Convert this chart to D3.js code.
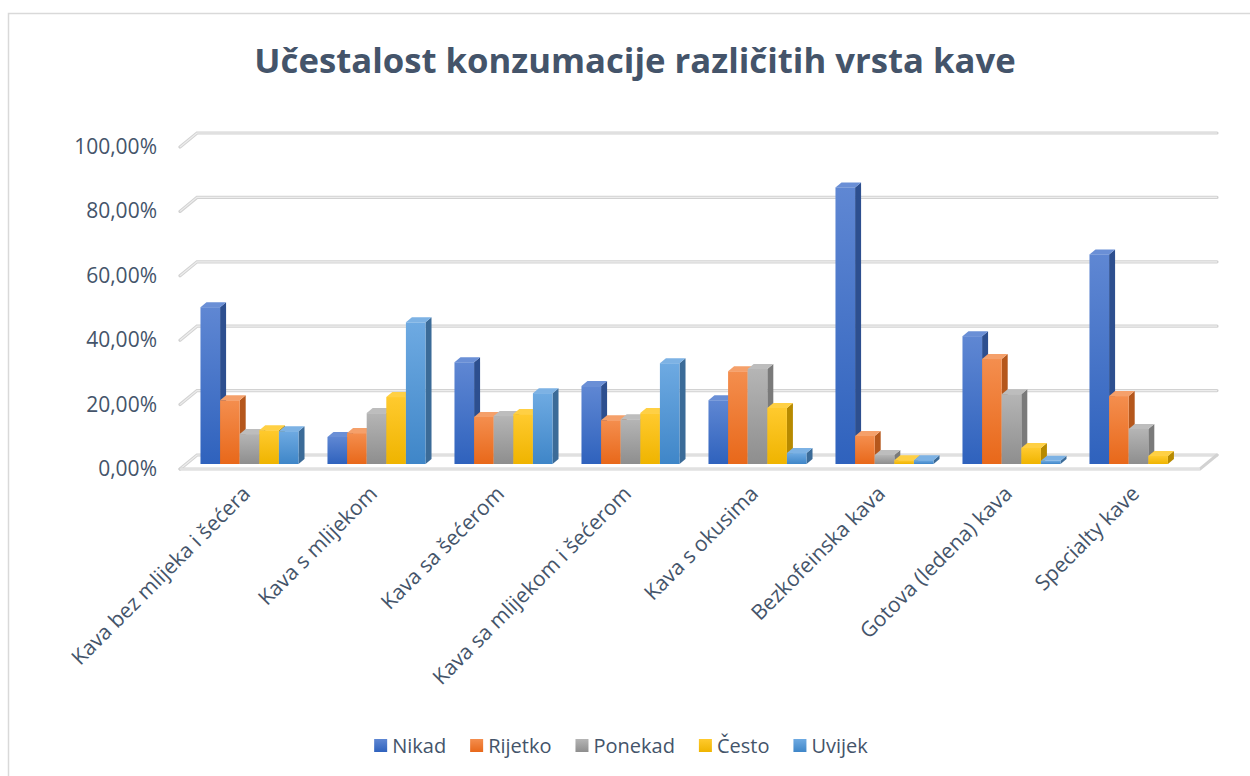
<!DOCTYPE html>
<html>
<head>
<meta charset="utf-8">
<script src="https://cdn.jsdelivr.net/npm/d3@7"></script>
<style>
    body { margin: 0; background: #fff; }
    svg { display: block; font-family: "Open Sans", sans-serif; }
</style>
</head>
<body>
<figure style="margin:0"></figure>
<script>
const CATEGORIES = [
    "Kava bez mlijeka i šećera",
    "Kava s mlijekom",
    "Kava sa šećerom",
    "Kava sa mlijekom i šećerom",
    "Kava s okusima",
    "Bezkofeinska kava",
    "Gotova (ledena) kava",
    "Specialty kave"
];
const SERIES = ["Nikad", "Rijetko", "Ponekad", "Često", "Uvijek"];
const NIKAD   = [0.487, 0.084, 0.316, 0.242, 0.198, 0.859, 0.397, 0.651];
const RIJETKO = [0.198, 0.096, 0.146, 0.136, 0.288, 0.087, 0.326, 0.211];
const PONEKAD = [0.093, 0.158, 0.149, 0.139, 0.295, 0.028, 0.217, 0.109];
const CESTO   = [0.105, 0.208, 0.155, 0.158, 0.174, 0.012, 0.050, 0.025];
const UVIJEK  = [0.102, 0.440, 0.220, 0.313, 0.034, 0.012, 0.010, 0.000];
const Y_TICKS = [0, 0.2, 0.4, 0.6, 0.8, 1.0];

const VALUES = [NIKAD, RIJETKO, PONEKAD, CESTO, UVIJEK];

// front / top / side colours for the fake 3D columns
const COLORS = [
    { top: "#6a8fd6", light: "#5f87d3", dark: "#2f62bd", side: "#2d4f8f" },
    { top: "#f5a06a", light: "#f48e4e", dark: "#e8681a", side: "#b5571c" },
    { top: "#bdbdbd", light: "#b5b5b5", dark: "#8e8e8e", side: "#7a7a7a" },
    { top: "#ffd044", light: "#ffca2e", dark: "#efb400", side: "#b78a00" },
    { top: "#7db2e4", light: "#6eaae2", dark: "#3f86c8", side: "#3b6b98" }
];
const TEXT = "#44546a";
const DX = 6, DY = 5;         // depth of a column
const WALL_DX = 17, WALL_DY = 14; // depth of the back wall relative to axis labels

const W = 1250, H = 776;

const svg = d3.select('figure')
    .append('svg')
    .attr('width', W)
    .attr('height', H);

const defs = svg.append('defs');
COLORS.forEach((c, i) => {
    const g = defs.append('linearGradient')
        .attr('id', 'grad' + i)
        .attr('x1', 0).attr('y1', 0).attr('x2', 0).attr('y2', 1);
    g.append('stop').attr('offset', '0%').attr('stop-color', c.light);
    g.append('stop').attr('offset', '100%').attr('stop-color', c.dark);
});

// chart frame
svg.append('rect')
    .attr('x', 8.5).attr('y', 13.5)
    .attr('width', W).attr('height', H)
    .attr('fill', 'none')
    .attr('stroke', '#d9d9d9')
    .attr('stroke-width', 1.5);

svg.append('text')
    .attr('x', 635)
    .attr('y', 73)
    .attr('text-anchor', 'middle')
    .attr('font-size', 34.7)
    .attr('font-weight', 700)
    .attr('fill', TEXT)
    .text("Učestalost konzumacije različitih vrsta kave");

const x0 = d3.scaleBand()
    .domain(CATEGORIES)
    .range([186, 1202])
    .paddingInner(0.228)
    .paddingOuter(0.114);

const x1 = d3.scaleBand()
    .domain(SERIES)
    .range([0, x0.bandwidth()]);

const y = d3.scaleLinear()
    .domain([0, 1])
    .range([464, 142]);

/**
 * back-wall y of a tick value
 */
function wallY(v) {
    return y(v) - 9;
}

// gridlines on the back wall with the slanted left end
const grid = svg.append('g');
Y_TICKS.forEach(t => {
    const by = wallY(t);
    const pts = [[180, by + WALL_DY], [180 + WALL_DX, by], [1217, by]];
    grid.append('path')
        .attr('d', d3.line()(pts))
        .attr('fill', 'none')
        .attr('stroke', '#d2d2d2')
        .attr('stroke-width', 3.2)
        .attr('stroke-linecap', 'round');
    grid.append('path')
        .attr('d', d3.line()(pts))
        .attr('fill', 'none')
        .attr('stroke', '#ededed')
        .attr('stroke-width', 1.2);
});

// floor front edge
const fy = wallY(0) + WALL_DY;
grid.append('path')
    .attr('d', d3.line()([[180, fy], [1200, fy], [1217, wallY(0)]]))
    .attr('fill', 'none')
    .attr('stroke', '#d2d2d2')
    .attr('stroke-width', 3)
    .attr('stroke-linecap', 'round');
grid.append('path')
    .attr('d', d3.line()([[180, fy], [1200, fy]]))
    .attr('fill', 'none')
    .attr('stroke', '#f0f0f0')
    .attr('stroke-width', 1);

// y labels
svg.append('g')
    .selectAll('text')
    .data(Y_TICKS)
    .join('text')
    .attr('x', 157)
    .attr('y', d => wallY(d) + WALL_DY + 7)
    .attr('text-anchor', 'end')
    .attr('font-size', 21)
    .attr('fill', TEXT)
    .text(d => d3.format('.2f')(d * 100).replace('.', ',') + '%');

// columns
const bars = [];
CATEGORIES.forEach((c, ci) => {
    SERIES.forEach((s, si) => {
        bars.push({ cat: c, ser: s, si: si, v: VALUES[si][ci] });
    });
});

const barG = svg.append('g')
    .selectAll('g')
    .data(bars.filter(d => d.v > 0))
    .join('g');

barG.each(function (d) {
    const g = d3.select(this);
    const xl = x0(d.cat) + x1(d.ser);
    const xr = xl + x1.bandwidth();
    const yt = y(d.v);
    const yb = y(0);
    const c = COLORS[d.si];
    g.append('path')
        .attr('d', d3.line()([[xr, yt], [xr + DX, yt - DY], [xr + DX, yb - DY], [xr, yb]]) + 'Z')
        .attr('fill', c.side);
    g.append('path')
        .attr('d', d3.line()([[xl, yt], [xl + DX, yt - DY], [xr + DX, yt - DY], [xr, yt]]) + 'Z')
        .attr('fill', c.top);
    g.append('rect')
        .attr('x', xl)
        .attr('y', yt)
        .attr('width', xr - xl)
        .attr('height', yb - yt)
        .attr('fill', 'url(#grad' + d.si + ')');
});

// category labels, rotated
svg.append('g')
    .selectAll('text')
    .data(CATEGORIES)
    .join('text')
    .attr('text-anchor', 'end')
    .attr('font-size', 21)
    .attr('fill', TEXT)
    .attr('transform', d => 'translate(' + (x0(d) + x0.bandwidth() / 2 + 2) + ',' + 495 + ') rotate(-45)')
    .text(d => d);

// legend
const legend = svg.append('g');
const items = legend.selectAll('g')
    .data(SERIES)
    .join('g');
items.append('rect')
    .attr('width', 13)
    .attr('height', 13)
    .attr('y', 739)
    .attr('fill', (d, i) => 'url(#grad' + i + ')');
items.append('text')
    .attr('x', 18)
    .attr('y', 753)
    .attr('font-size', 20)
    .attr('fill', TEXT)
    .text(d => d);

let lx = 0;
const gap = 24;
const widths = [];
items.each(function () {
    widths.push(18 + d3.select(this).select('text').node().getComputedTextLength());
});
const total = d3.sum(widths) + gap * (widths.length - 1);
lx = 621 - total / 2;
items.each(function (d, i) {
    d3.select(this).attr('transform', 'translate(' + lx + ',0)');
    lx += widths[i] + gap;
});
</script>
</body>
</html>
